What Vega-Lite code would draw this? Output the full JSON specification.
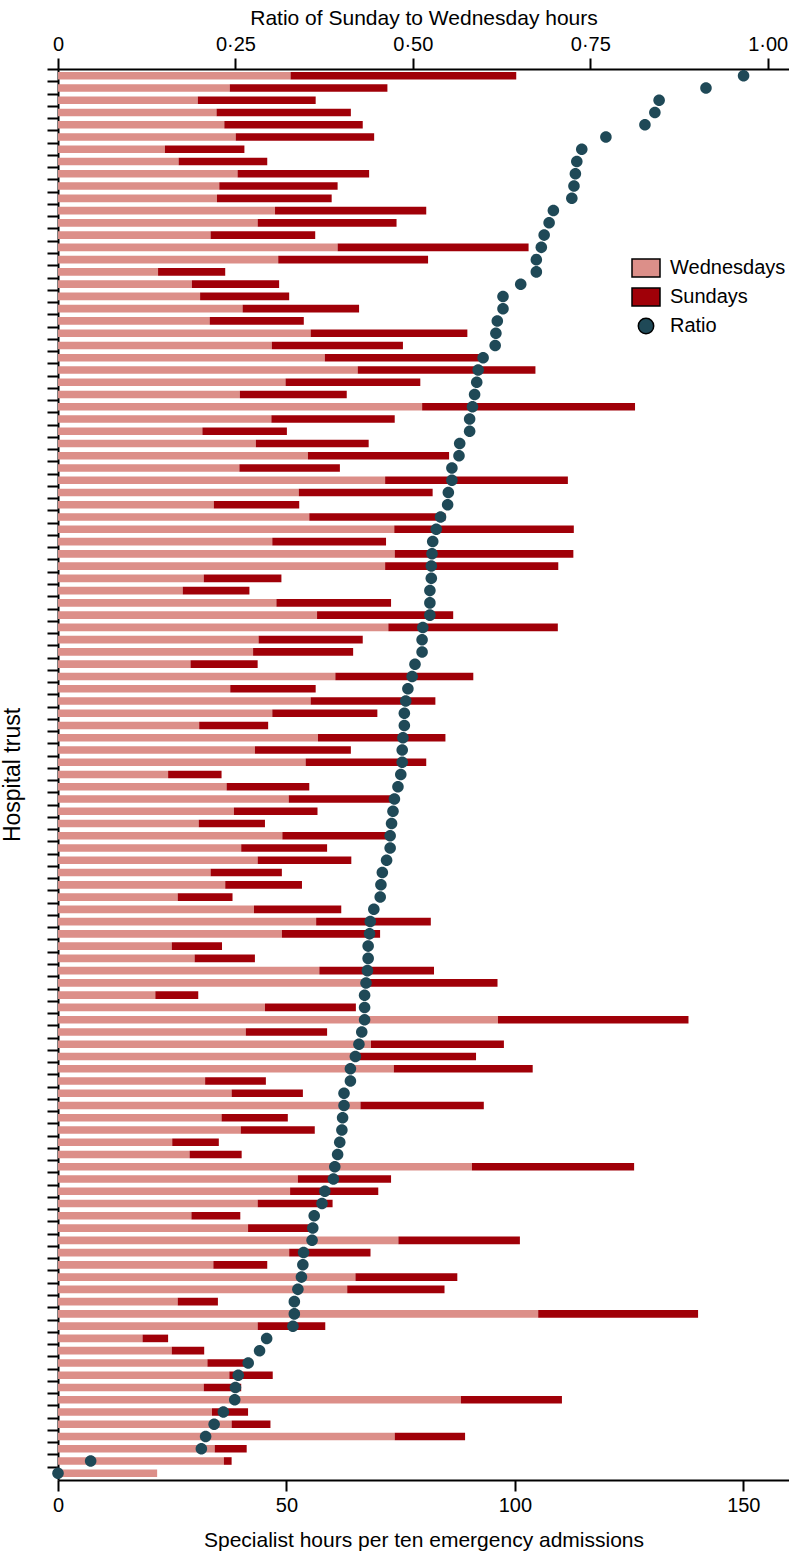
{
  "$schema": "https://vega.github.io/schema/vega-lite/v6.json",
  "autosize": {"type": "none"},
  "padding": {"left": 58, "top": 69, "right": 0, "bottom": 77},
  "width": 731,
  "height": 1411,
  "config": {
    "view": {"stroke": null},
    "font": "Liberation Sans",
    "axis": {"labelColor": "black", "titleColor": "black", "titleFontWeight": "normal", "tickColor": "black", "domainColor": "black", "grid": false}
  },
  "data": {"values": [
    {"t":1,"Wednesdays":50.9,"Sundays":49.4,"Ratio":0.966},
    {"t":2,"Wednesdays":37.6,"Sundays":34.5,"Ratio":0.913},
    {"t":3,"Wednesdays":30.6,"Sundays":25.8,"Ratio":0.847},
    {"t":4,"Wednesdays":34.7,"Sundays":29.4,"Ratio":0.841},
    {"t":5,"Wednesdays":36.4,"Sundays":30.3,"Ratio":0.827},
    {"t":6,"Wednesdays":38.9,"Sundays":30.3,"Ratio":0.772},
    {"t":7,"Wednesdays":23.4,"Sundays":17.4,"Ratio":0.738},
    {"t":8,"Wednesdays":26.4,"Sundays":19.4,"Ratio":0.731},
    {"t":9,"Wednesdays":39.3,"Sundays":28.8,"Ratio":0.729},
    {"t":10,"Wednesdays":35.3,"Sundays":25.9,"Ratio":0.727},
    {"t":11,"Wednesdays":34.8,"Sundays":25.1,"Ratio":0.724},
    {"t":12,"Wednesdays":47.5,"Sundays":33.1,"Ratio":0.698},
    {"t":13,"Wednesdays":43.7,"Sundays":30.4,"Ratio":0.692},
    {"t":14,"Wednesdays":33.4,"Sundays":22.9,"Ratio":0.685},
    {"t":15,"Wednesdays":61.2,"Sundays":41.8,"Ratio":0.681},
    {"t":16,"Wednesdays":48.2,"Sundays":32.8,"Ratio":0.674},
    {"t":17,"Wednesdays":21.9,"Sundays":14.7,"Ratio":0.674},
    {"t":18,"Wednesdays":29.3,"Sundays":19.1,"Ratio":0.652},
    {"t":19,"Wednesdays":31.1,"Sundays":19.5,"Ratio":0.627},
    {"t":20,"Wednesdays":40.4,"Sundays":25.5,"Ratio":0.627},
    {"t":21,"Wednesdays":33.2,"Sundays":20.6,"Ratio":0.619},
    {"t":22,"Wednesdays":55.3,"Sundays":34.3,"Ratio":0.617},
    {"t":23,"Wednesdays":46.8,"Sundays":28.7,"Ratio":0.616},
    {"t":24,"Wednesdays":58.4,"Sundays":33.8,"Ratio":0.599},
    {"t":25,"Wednesdays":65.6,"Sundays":38.9,"Ratio":0.592},
    {"t":26,"Wednesdays":49.8,"Sundays":29.5,"Ratio":0.590},
    {"t":27,"Wednesdays":39.8,"Sundays":23.4,"Ratio":0.587},
    {"t":28,"Wednesdays":79.7,"Sundays":46.6,"Ratio":0.584},
    {"t":29,"Wednesdays":46.7,"Sundays":27.0,"Ratio":0.580},
    {"t":30,"Wednesdays":31.6,"Sundays":18.5,"Ratio":0.580},
    {"t":31,"Wednesdays":43.3,"Sundays":24.7,"Ratio":0.566},
    {"t":32,"Wednesdays":54.7,"Sundays":30.9,"Ratio":0.565},
    {"t":33,"Wednesdays":39.7,"Sundays":22.0,"Ratio":0.555},
    {"t":34,"Wednesdays":71.6,"Sundays":40.0,"Ratio":0.555},
    {"t":35,"Wednesdays":52.7,"Sundays":29.3,"Ratio":0.550},
    {"t":36,"Wednesdays":34.1,"Sundays":18.7,"Ratio":0.549},
    {"t":37,"Wednesdays":55.0,"Sundays":29.8,"Ratio":0.539},
    {"t":38,"Wednesdays":73.6,"Sundays":39.3,"Ratio":0.533},
    {"t":39,"Wednesdays":46.9,"Sundays":24.9,"Ratio":0.528},
    {"t":40,"Wednesdays":73.7,"Sundays":39.1,"Ratio":0.527},
    {"t":41,"Wednesdays":71.6,"Sundays":37.9,"Ratio":0.526},
    {"t":42,"Wednesdays":31.9,"Sundays":17.0,"Ratio":0.526},
    {"t":43,"Wednesdays":27.3,"Sundays":14.6,"Ratio":0.524},
    {"t":44,"Wednesdays":47.8,"Sundays":25.1,"Ratio":0.524},
    {"t":45,"Wednesdays":56.7,"Sundays":29.8,"Ratio":0.524},
    {"t":46,"Wednesdays":72.3,"Sundays":37.1,"Ratio":0.514},
    {"t":47,"Wednesdays":43.9,"Sundays":22.8,"Ratio":0.513},
    {"t":48,"Wednesdays":42.7,"Sundays":21.9,"Ratio":0.513},
    {"t":49,"Wednesdays":29.0,"Sundays":14.7,"Ratio":0.503},
    {"t":50,"Wednesdays":60.7,"Sundays":30.2,"Ratio":0.499},
    {"t":51,"Wednesdays":37.7,"Sundays":18.7,"Ratio":0.493},
    {"t":52,"Wednesdays":55.3,"Sundays":27.3,"Ratio":0.490},
    {"t":53,"Wednesdays":46.9,"Sundays":23.0,"Ratio":0.488},
    {"t":54,"Wednesdays":30.9,"Sundays":15.1,"Ratio":0.488},
    {"t":55,"Wednesdays":56.9,"Sundays":27.9,"Ratio":0.486},
    {"t":56,"Wednesdays":43.1,"Sundays":21.0,"Ratio":0.485},
    {"t":57,"Wednesdays":54.2,"Sundays":26.4,"Ratio":0.485},
    {"t":58,"Wednesdays":24.1,"Sundays":11.7,"Ratio":0.483},
    {"t":59,"Wednesdays":36.9,"Sundays":18.1,"Ratio":0.479},
    {"t":60,"Wednesdays":50.5,"Sundays":22.8,"Ratio":0.474},
    {"t":61,"Wednesdays":38.5,"Sundays":18.3,"Ratio":0.472},
    {"t":62,"Wednesdays":30.8,"Sundays":14.5,"Ratio":0.470},
    {"t":63,"Wednesdays":49.1,"Sundays":23.1,"Ratio":0.468},
    {"t":64,"Wednesdays":40.1,"Sundays":18.8,"Ratio":0.468},
    {"t":65,"Wednesdays":43.7,"Sundays":20.5,"Ratio":0.463},
    {"t":66,"Wednesdays":33.4,"Sundays":15.6,"Ratio":0.457},
    {"t":67,"Wednesdays":36.6,"Sundays":16.8,"Ratio":0.455},
    {"t":68,"Wednesdays":26.2,"Sundays":12.0,"Ratio":0.454},
    {"t":69,"Wednesdays":42.9,"Sundays":19.1,"Ratio":0.445},
    {"t":70,"Wednesdays":56.5,"Sundays":25.1,"Ratio":0.440},
    {"t":71,"Wednesdays":49.0,"Sundays":21.5,"Ratio":0.439},
    {"t":72,"Wednesdays":24.9,"Sundays":11.0,"Ratio":0.437},
    {"t":73,"Wednesdays":29.9,"Sundays":13.2,"Ratio":0.437},
    {"t":74,"Wednesdays":57.2,"Sundays":25.1,"Ratio":0.436},
    {"t":75,"Wednesdays":67.0,"Sundays":29.2,"Ratio":0.434},
    {"t":76,"Wednesdays":21.3,"Sundays":9.4,"Ratio":0.432},
    {"t":77,"Wednesdays":45.3,"Sundays":19.9,"Ratio":0.432},
    {"t":78,"Wednesdays":96.3,"Sundays":41.7,"Ratio":0.432},
    {"t":79,"Wednesdays":41.1,"Sundays":17.8,"Ratio":0.428},
    {"t":80,"Wednesdays":68.5,"Sundays":29.1,"Ratio":0.424},
    {"t":81,"Wednesdays":64.5,"Sundays":27.0,"Ratio":0.419},
    {"t":82,"Wednesdays":73.5,"Sundays":30.4,"Ratio":0.412},
    {"t":83,"Wednesdays":32.2,"Sundays":13.3,"Ratio":0.412},
    {"t":84,"Wednesdays":38.0,"Sundays":15.6,"Ratio":0.403},
    {"t":85,"Wednesdays":66.2,"Sundays":27.0,"Ratio":0.403},
    {"t":86,"Wednesdays":35.8,"Sundays":14.5,"Ratio":0.401},
    {"t":87,"Wednesdays":40.0,"Sundays":16.2,"Ratio":0.400},
    {"t":88,"Wednesdays":25.0,"Sundays":10.2,"Ratio":0.397},
    {"t":89,"Wednesdays":28.8,"Sundays":11.4,"Ratio":0.394},
    {"t":90,"Wednesdays":90.6,"Sundays":35.5,"Ratio":0.390},
    {"t":91,"Wednesdays":52.5,"Sundays":20.4,"Ratio":0.388},
    {"t":92,"Wednesdays":50.8,"Sundays":19.3,"Ratio":0.376},
    {"t":93,"Wednesdays":43.7,"Sundays":16.4,"Ratio":0.372},
    {"t":94,"Wednesdays":29.2,"Sundays":10.7,"Ratio":0.361},
    {"t":95,"Wednesdays":41.6,"Sundays":14.9,"Ratio":0.359},
    {"t":96,"Wednesdays":74.5,"Sundays":26.6,"Ratio":0.358},
    {"t":97,"Wednesdays":50.6,"Sundays":17.8,"Ratio":0.346},
    {"t":98,"Wednesdays":34.0,"Sundays":11.8,"Ratio":0.345},
    {"t":99,"Wednesdays":65.1,"Sundays":22.3,"Ratio":0.343},
    {"t":100,"Wednesdays":63.3,"Sundays":21.3,"Ratio":0.338},
    {"t":101,"Wednesdays":26.2,"Sundays":8.8,"Ratio":0.333},
    {"t":102,"Wednesdays":105.1,"Sundays":35.0,"Ratio":0.333},
    {"t":103,"Wednesdays":43.7,"Sundays":14.8,"Ratio":0.331},
    {"t":104,"Wednesdays":18.5,"Sundays":5.6,"Ratio":0.294},
    {"t":105,"Wednesdays":24.9,"Sundays":7.1,"Ratio":0.284},
    {"t":106,"Wednesdays":32.7,"Sundays":8.3,"Ratio":0.268},
    {"t":107,"Wednesdays":37.5,"Sundays":9.5,"Ratio":0.254},
    {"t":108,"Wednesdays":31.9,"Sundays":8.2,"Ratio":0.250},
    {"t":109,"Wednesdays":88.2,"Sundays":22.1,"Ratio":0.249},
    {"t":110,"Wednesdays":33.7,"Sundays":7.9,"Ratio":0.233},
    {"t":111,"Wednesdays":38.0,"Sundays":8.5,"Ratio":0.220},
    {"t":112,"Wednesdays":73.7,"Sundays":15.4,"Ratio":0.208},
    {"t":113,"Wednesdays":34.3,"Sundays":7.0,"Ratio":0.202},
    {"t":114,"Wednesdays":36.3,"Sundays":1.7,"Ratio":0.046},
    {"t":115,"Wednesdays":21.7,"Sundays":0,"Ratio":0}
  ]},
  "encoding": {
    "y": {
      "field": "t", "type": "ordinal", "sort": "ascending",
      "scale": {"paddingInner": 0, "paddingOuter": 0.05},
      "axis": {"title": "Hospital trust", "labels": false, "tickSize": 11, "tickWidth": 2, "domainWidth": 2, "bandPosition": 0, "titleFontSize": 23, "titlePadding": 22}
    }
  },
  "layer": [
    {
      "transform": [{"fold": ["Wednesdays", "Sundays"], "as": ["series", "hours"]}],
      "mark": {"type": "bar", "height": {"band": 0.62}},
      "encoding": {
        "x": {
          "field": "hours", "type": "quantitative", "stack": "zero",
          "scale": {"domain": [0, 160], "nice": false},
          "axis": {"orient": "bottom", "values": [0, 50, 100, 150], "title": "Specialist hours per ten emergency admissions", "tickSize": 11, "tickWidth": 2, "domainWidth": 2, "labelFontSize": 20, "labelPadding": 4, "titleFontSize": 21, "titlePadding": 14, "labelFlush": false}
        },
        "color": {
          "field": "series", "type": "nominal",
          "scale": {"domain": ["Wednesdays", "Sundays", "Ratio"], "range": ["#dc8f89", "#a00008", "#1f4957"]}
        },
        "order": {"field": "series", "sort": "descending"}
      }
    },
    {
      "transform": [{"fold": ["Ratio"], "as": ["series", "ratioValue"]}],
      "mark": {"type": "point", "filled": true, "opacity": 1, "size": 440},
      "encoding": {
        "x": {
          "field": "ratioValue", "type": "quantitative",
          "scale": {"domain": [0, 1.03], "nice": false},
          "axis": {"orient": "top", "values": [0, 0.25, 0.5, 0.75, 1], "labelExpr": "datum.value == 0 ? '0' : replace(format(datum.value, '.2f'), '.', '·')", "title": "Ratio of Sunday to Wednesday hours", "tickSize": 11, "tickWidth": 2, "domainWidth": 2, "labelFontSize": 20, "labelPadding": 4, "titleFontSize": 21, "titlePadding": 6, "labelFlush": false}
        },
        "color": {
          "field": "series", "type": "nominal",
          "scale": {"domain": ["Wednesdays", "Sundays", "Ratio"], "range": ["#dc8f89", "#a00008", "#1f4957"]},
          "legend": {"orient": "none", "legendX": 573, "legendY": 184, "title": null, "labelFontSize": 20, "labelColor": "black", "symbolSize": 784, "rowPadding": 2, "labelOffset": 9, "symbolStrokeColor": "black", "symbolStrokeWidth": 1.5}
        },
        "shape": {
          "field": "series", "type": "nominal",
          "scale": {"domain": ["Wednesdays", "Sundays", "Ratio"], "range": ["M-1,-0.64H1V0.64H-1Z", "M-1,-0.64H1V0.64H-1Z", "M0.55,0A0.55,0.55,0,1,1,-0.55,0A0.55,0.55,0,1,1,0.55,0Z"]},
          "legend": {"orient": "none", "legendX": 573, "legendY": 184, "title": null, "labelFontSize": 20, "labelColor": "black", "symbolSize": 784, "rowPadding": 2, "labelOffset": 9, "symbolStrokeColor": "black", "symbolStrokeWidth": 1.5}
        }
      }
    }
  ],
  "resolve": {"scale": {"x": "independent"}}
}
